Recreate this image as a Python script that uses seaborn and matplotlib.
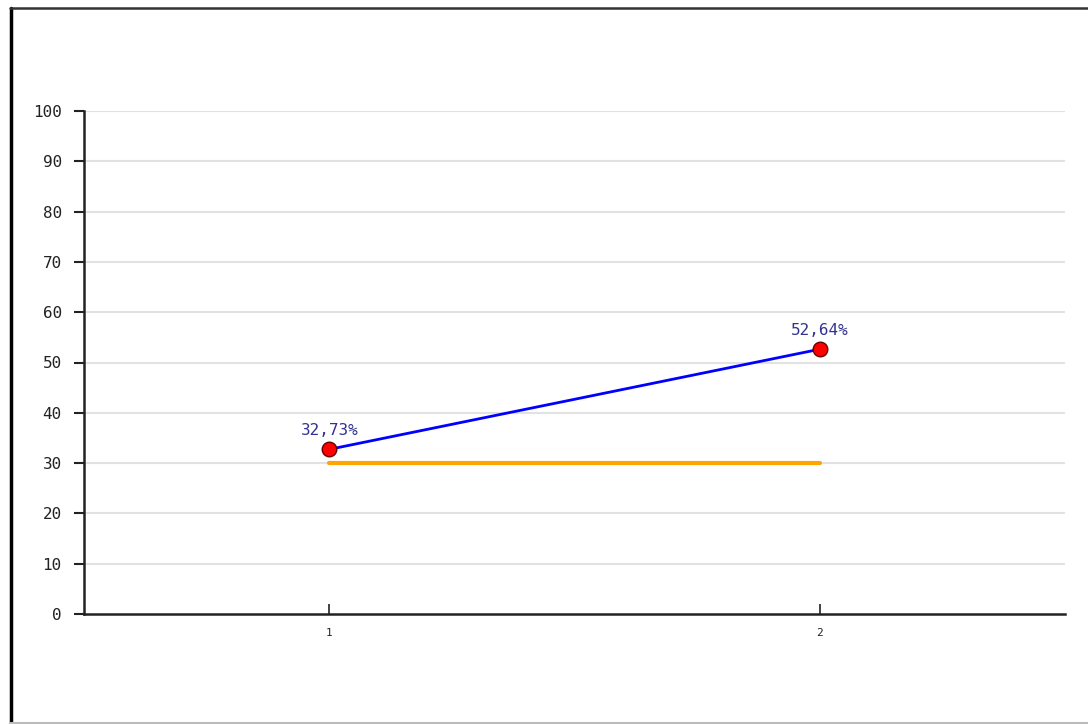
import matplotlib

matplotlib.use("Agg")
import matplotlib.pyplot as plt
import pandas as pd
import seaborn as sns
from matplotlib.lines import Line2D

# data
periods = [1, 2]
rates = [32.73, 52.64]
labels = ["32,73%", "52,64%"]
target = [30, 30]

df = pd.DataFrame({"period": periods, "rate": rates, "target": target})

sns.set_style("white")
plt.rcParams["font.family"] = ["DejaVu Sans Mono", "DejaVu Sans"]

fig = plt.figure(figsize=(10.88, 7.24), dpi=100)
ax = fig.add_axes([84 / 1088, 1 - 614 / 724, (1065 - 84) / 1088, (614 - 111) / 724])

for v in range(10, 101, 10):
    ax.axhline(v, color="#e2e2e2", lw=1.5, zorder=0)

sns.lineplot(data=df, x="period", y="target", color="#ffa500", lw=3, ax=ax, zorder=2)
sns.lineplot(data=df, x="period", y="rate", color="#0000ff", lw=2, ax=ax, zorder=3)
sns.scatterplot(data=df, x="period", y="rate", color="#ff0000", edgecolor="#660000",
                s=110, marker="o", linewidth=1, ax=ax, zorder=4)

for x, y, t in zip(periods, rates, labels):
    ax.annotate(t, (x, y), xytext=(0, 8), textcoords="offset points",
                ha="center", va="bottom", color="#33338f", fontsize=11.5)

ax.set_xlim(0.5, 2.5)
ax.set_ylim(0, 100)
ax.set_xticks(periods)
ax.set_yticks(range(0, 101, 10))
ax.set_xlabel("")
ax.set_ylabel("")
ax.tick_params(axis="y", left=True, direction="out", length=7, width=1.5, labelsize=11.5,
               pad=9, color="#222222", labelcolor="#222222")
ax.tick_params(axis="x", bottom=True, direction="in", length=7, width=1.2, labelsize=8,
               pad=10, color="#222222", labelcolor="#222222")
for side in ["top", "right"]:
    ax.spines[side].set_visible(False)
for side in ["left", "bottom"]:
    ax.spines[side].set_linewidth(1.8)
    ax.spines[side].set_color("#222222")

# outer frame of the picture
fig.add_artist(Line2D([10.5 / 1088, 10.5 / 1088], [0, 1 - 7.5 / 724], color="black", lw=2.5))
fig.add_artist(Line2D([10 / 1088, 1], [1 - 7.5 / 724, 1 - 7.5 / 724], color="#333333", lw=1.8))
fig.add_artist(Line2D([10 / 1088, 1], [1.5 / 724, 1.5 / 724], color="#bbbbbb", lw=1.5))

fig.savefig("out.png", dpi=100)
